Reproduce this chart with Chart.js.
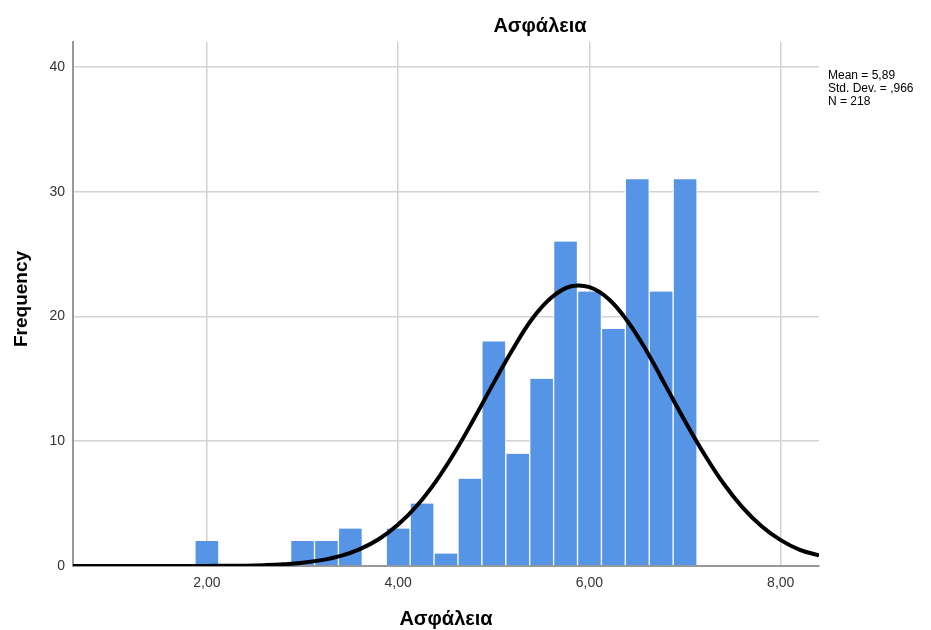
<!DOCTYPE html>
<html>
<head>
<meta charset="utf-8">
<script src="https://cdn.jsdelivr.net/npm/chart.js@4"></script>
<style>
  html, body { margin: 0; padding: 0; background: #fff; }
  #wrap { width: 931px; height: 630px; }
</style>
</head>
<body>
<div id="wrap"><canvas id="hist" width="931" height="630"></canvas></div>
<script>
// bin centres (width 0,25) and counts
const binCenters = [2.0, 3.0, 3.25, 3.5, 4.0, 4.25, 4.5, 4.75, 5.0, 5.25, 5.5, 5.75, 6.0, 6.25, 6.5, 6.75, 7.0];
const counts     = [2,   2,   2,    3,   3,   5,    1,   7,    18,  9,    15,  26,   22,  19,   31,  22,   31];

// normal curve, points
const curveX = [0.6, 1.0, 1.4, 1.8, 2.0, 2.2, 2.4, 2.6, 2.8, 3.0, 3.2, 3.4, 3.6, 3.8, 4.0, 4.2, 4.4, 4.6, 4.8, 5.0,
                5.2, 5.4, 5.6, 5.8, 6.0, 6.2, 6.4, 6.6, 6.8, 7.0, 7.2, 7.4, 7.6, 7.8, 8.0, 8.2, 8.4];
const curveY = [0, 0, 0, 0, 0.01, 0.02, 0.03, 0.07, 0.14, 0.26, 0.47, 0.81, 1.35, 2.16, 3.32, 4.87, 6.85, 9.22, 11.9, 14.7,
                17.4, 19.8, 21.5, 22.4, 22.35, 21.4, 19.6, 17.2, 14.4, 11.6, 8.97, 6.63, 4.7, 3.19, 2.07, 1.29, 0.85];

const xTicks = [2, 4, 6, 8];
const yTicks = [0, 10, 20, 30, 40];
const statsLines = ['Mean = 5,89', 'Std. Dev. = ,966', 'N = 218'];
const chartTitle = 'Ασφάλεια';
const xTitle = 'Ασφάλεια';
const yTitle = 'Frequency';

const FONT = '"Liberation Sans", Arial, sans-serif';

// titles and the stats box are drawn by hand, like SPSS places them
const textPlugin = {
    id: 'spssText',
    afterDraw(chart) {
        const ctx = chart.ctx;
        const area = chart.chartArea;
        ctx.save();
        ctx.fillStyle = '#000';
        ctx.textAlign = 'center';
        ctx.textBaseline = 'middle';
        ctx.font = 'bold 20px ' + FONT;
        ctx.fillText(chartTitle, 540, 26);
        ctx.fillText(xTitle, (area.left + area.right) / 2, 619);

        ctx.save();
        ctx.font = 'bold 19px ' + FONT;
        ctx.translate(22, 299);
        ctx.rotate(-Math.PI / 2);
        ctx.fillText(yTitle, 0, 0);
        ctx.restore();

        ctx.textAlign = 'left';
        ctx.font = '12px ' + FONT;
        statsLines.forEach((line, i) => {
            ctx.fillText(line, 828, 76 + i * 13);
        });
        ctx.restore();
    }
};

const ctx = document.getElementById('hist').getContext('2d');
new Chart(ctx, {
    data: {
        datasets: [{
            type: 'line',
            data: curveX.map((x, i) => ({ x: x, y: curveY[i] })),
            borderColor: '#000',
            borderWidth: 4,
            pointRadius: 0,
            tension: 0.4,
            fill: false
        }, {
            type: 'bar',
            data: binCenters.map((x, i) => ({ x: x, y: counts[i] })),
            backgroundColor: '#5694e6',
            borderColor: '#ffffff',
            borderWidth: { left: 1, right: 1, top: 0, bottom: 0 },
            barPercentage: 1,
            categoryPercentage: 1
        }]
    },
    options: {
        responsive: false,
        animation: false,
        layout: { padding: { top: 42, right: 112, left: 0, bottom: 0 } },
        plugins: {
            legend: { display: false },
            tooltip: { enabled: false }
        },
        scales: {
            x: {
                type: 'linear',
                min: 0.6,
                max: 8.4,
                offset: false,
                afterBuildTicks: scale => { scale.ticks = xTicks.map(v => ({ value: v })); },
                afterFit: scale => { scale.height = 64; },
                ticks: {
                    callback: v => v.toFixed(2).replace('.', ','),
                    color: '#333',
                    font: { family: FONT, size: 14 },
                    padding: 9,
                    maxRotation: 0
                },
                grid: { color: '#d2d2d2', lineWidth: 1.5, drawTicks: false, offset: false },
                border: { color: '#999', width: 2 }
            },
            y: {
                min: 0,
                max: 42,
                afterBuildTicks: scale => { scale.ticks = yTicks.map(v => ({ value: v })); },
                afterFit: scale => { scale.width = 73; },
                ticks: {
                    color: '#333',
                    font: { family: FONT, size: 14 },
                    padding: 8
                },
                grid: { color: '#d2d2d2', lineWidth: 1.5, drawTicks: false },
                border: { color: '#999', width: 2 }
            }
        }
    },
    plugins: [textPlugin]
});
</script>
</body>
</html>
